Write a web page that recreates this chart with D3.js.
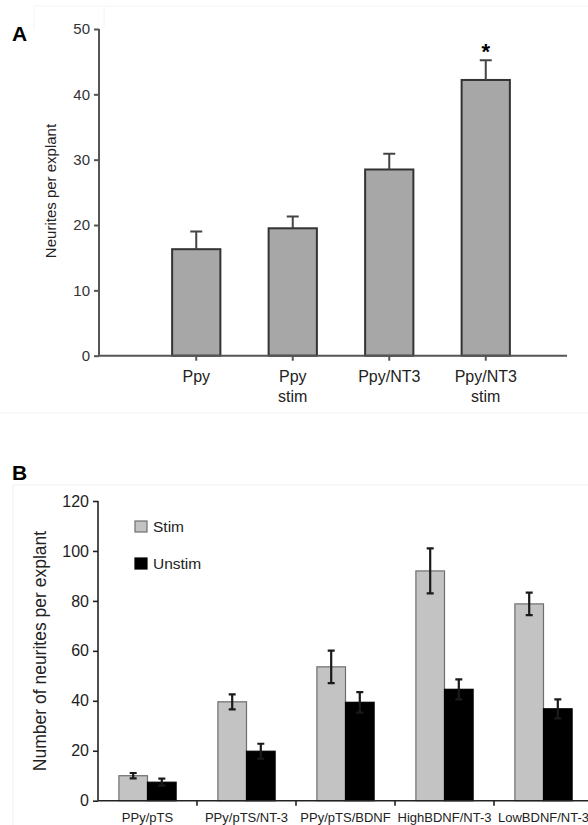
<!DOCTYPE html>
<html>
<head>
<meta charset="utf-8">
<script src="https://cdn.jsdelivr.net/npm/d3@7/dist/d3.min.js"></script>
<style>
  html, body { margin: 0; padding: 0; background: #fff; }
  svg { display: block; font-family: "Liberation Sans", Arial, sans-serif; }
</style>
</head>
<body>
<svg id="fig" width="588" height="825"></svg>
<script>
// ---- Panel A data ----
const catsA = [["Ppy"], ["Ppy", "stim"], ["Ppy/NT3"], ["Ppy/NT3", "stim"]];
const keysA = ["Ppy", "Ppy stim", "Ppy/NT3", "Ppy/NT3 stim"];
const meanA = [16.3, 19.5, 28.5, 42.2];
const errA = [2.7, 1.8, 2.4, 3.0];
const sigA = [false, false, false, true];
const ticksA = [0, 10, 20, 30, 40, 50];

// ---- Panel B data ----
const groupsB = ["PPy/pTS", "PPy/pTS/NT-3", "PPy/pTS/BDNF", "HighBDNF/NT-3", "LowBDNF/NT-3"];
const seriesB = ["Stim", "Unstim"];
const stimB = [10.0, 39.6, 53.6, 92.0, 78.8];
const stimErrB = [1.1, 3.0, 6.5, 9.0, 4.5];
const unstimB = [7.4, 19.8, 39.4, 44.6, 36.8];
const unstimErrB = [1.4, 3.0, 4.1, 4.0, 3.8];
const ticksB = [0, 20, 40, 60, 80, 100, 120];

const svg = d3.select("#fig");

// faint frames of the two panels
svg.append("path").attr("d", "M34,6H588M104,6V28M34,6V30")
  .attr("stroke", "#f4f4f4").attr("fill", "none");
svg.append("path").attr("d", "M0,413H588")
  .attr("stroke", "#f3f3f3").attr("fill", "none");
svg.append("path").attr("d", "M13,825V485H588")
  .attr("stroke", "#f0f0f0").attr("fill", "none");

// ================= Panel A =================
const yA = d3.scaleLinear().domain([0, 50]).range([355.7, 29]);
const xA = d3.scaleBand().domain(keysA).range([148, 534]).paddingInner(0.5).paddingOuter(0.25);

svg.append("text").text("A").attr("x", 12).attr("y", 41)
  .attr("font-size", 21).attr("font-weight", "bold");

const gA = svg.append("g");
// bars
gA.selectAll("rect.bar").data(meanA).join("rect")
  .attr("x", (d, i) => xA(keysA[i]))
  .attr("y", d => yA(d))
  .attr("width", xA.bandwidth())
  .attr("height", d => yA(0) - yA(d))
  .attr("fill", "#a7a7a7").attr("stroke", "#333").attr("stroke-width", 2);
// error bars (upper only)
gA.selectAll("path.err").data(meanA).join("path")
  .attr("d", (d, i) => {
    const cx = xA(keysA[i]) + xA.bandwidth() / 2;
    const t = yA(d + errA[i]);
    return `M${cx},${yA(d)}V${t}M${cx - 6},${t}H${cx + 6}`;
  })
  .attr("stroke", "#444").attr("stroke-width", 2).attr("fill", "none");
// significance marker
gA.selectAll("text.sig").data(meanA.filter((d, i) => sigA[i])).join("text")
  .text("*")
  .attr("x", d => xA(keysA[meanA.indexOf(d)]) + xA.bandwidth() / 2)
  .attr("y", d => yA(d + errA[meanA.indexOf(d)]) - 1)
  .attr("text-anchor", "middle").attr("font-size", 22).attr("font-weight", "bold");

// y axis
const axA = gA.append("g").attr("transform", "translate(99,0)")
  .call(d3.axisLeft(yA).tickValues(ticksA).tickSize(5).tickPadding(4));
axA.select(".domain").attr("d", `M0,${yA(50)}V${yA(0)}`);
axA.selectAll("path,line").attr("stroke", "#555").attr("stroke-width", 2);
axA.selectAll("text").attr("font-size", 15).attr("fill", "#333")
  .attr("font-family", "Liberation Sans, Arial, sans-serif");

// x axis
const axXA = gA.append("g").attr("transform", `translate(0,${yA(0)})`)
  .call(d3.axisBottom(xA).tickSize(5).tickFormat(""));
axXA.select(".domain").attr("d", "M99,0H567");
axXA.selectAll("path,line").attr("stroke", "#555").attr("stroke-width", 2);
// multi-line category labels
gA.selectAll("text.cat").data(catsA).join("text")
  .attr("class", "cat")
  .attr("x", (d, i) => xA(keysA[i]) + xA.bandwidth() / 2)
  .attr("y", 382)
  .attr("text-anchor", "middle").attr("font-size", 16).attr("fill", "#222")
  .each(function (lines) {
    const t = d3.select(this);
    lines.forEach((l, k) => t.append("tspan")
      .attr("x", t.attr("x")).attr("dy", k === 0 ? 0 : 20).text(l));
  });
// y title
svg.append("text").text("Neurites per explant")
  .attr("transform", "translate(56,191) rotate(-90)")
  .attr("text-anchor", "middle").attr("font-size", 15).attr("fill", "#222");

// ================= Panel B =================
const yB = d3.scaleLinear().domain([0, 120]).range([800.7, 501]);
const xB = d3.scaleBand().domain(groupsB).range([98, 593]);
const xInner = d3.scaleBand().domain(seriesB)
  .range([xB.bandwidth() * 0.211, xB.bandwidth() * 0.789]);
const fillB = { Stim: "#c3c3c3", Unstim: "#000" };
const strokeB = { Stim: "#6e6e6e", Unstim: "#000" };

svg.append("text").text("B").attr("x", 12).attr("y", 480)
  .attr("font-size", 21).attr("font-weight", "bold");

const gB = svg.append("g");
const rowsB = groupsB.map((g, i) => [
  { g, s: "Stim", v: stimB[i], e: stimErrB[i] },
  { g, s: "Unstim", v: unstimB[i], e: unstimErrB[i] }
]).flat();

gB.selectAll("rect.bar").data(rowsB).join("rect")
  .attr("x", d => xB(d.g) + xInner(d.s))
  .attr("y", d => yB(d.v))
  .attr("width", xInner.bandwidth())
  .attr("height", d => yB(0) - yB(d.v))
  .attr("fill", d => fillB[d.s]).attr("stroke", d => strokeB[d.s]).attr("stroke-width", 1.2);

gB.selectAll("path.err").data(rowsB).join("path")
  .attr("d", d => {
    const cx = xB(d.g) + xInner(d.s) + xInner.bandwidth() / 2;
    const t = yB(d.v + d.e), b = yB(d.v - d.e);
    return `M${cx},${b}V${t}M${cx - 3.5},${t}H${cx + 3.5}M${cx - 3.5},${b}H${cx + 3.5}`;
  })
  .attr("stroke", "#1a1a1a").attr("stroke-width", 2.2).attr("fill", "none");

// y axis
const axB = gB.append("g").attr("transform", "translate(98,0)")
  .call(d3.axisLeft(yB).tickValues(ticksB).tickSize(5).tickPadding(4));
axB.select(".domain").attr("d", `M0,${yB(120)}V${yB(0)}`);
axB.selectAll("path,line").attr("stroke", "#222").attr("stroke-width", 1.6);
axB.selectAll("text").attr("font-size", 16).attr("fill", "#222")
  .attr("font-family", "Liberation Sans, Arial, sans-serif");

// x axis: ticks at group boundaries
const axXB = gB.append("g").attr("transform", `translate(0,${yB(0)})`);
axXB.append("path").attr("d", "M98,0H593").attr("stroke", "#222").attr("stroke-width", 1.6);
axXB.selectAll("line").data(groupsB).join("line")
  .attr("x1", d => xB(d) + xB.bandwidth()).attr("x2", d => xB(d) + xB.bandwidth())
  .attr("y1", 0).attr("y2", 5).attr("stroke", "#222").attr("stroke-width", 1.6);
gB.selectAll("text.grp").data(groupsB).join("text")
  .attr("x", d => xB(d) + xB.bandwidth() / 2)
  .attr("y", 822)
  .attr("text-anchor", "middle").attr("font-size", 13).attr("fill", "#222")
  .text(d => d);

// legend
const leg = gB.selectAll("g.leg").data(seriesB).join("g")
  .attr("transform", (d, i) => `translate(135,${521 + i * 37})`);
leg.append("rect").attr("width", 12).attr("height", 11)
  .attr("fill", d => fillB[d]).attr("stroke", d => strokeB[d]).attr("stroke-width", 1.2);
leg.append("text").attr("x", 18).attr("y", 11).attr("font-size", 15.5).attr("fill", "#222")
  .text(d => d);

// y title
svg.append("text").text("Number of neurites per explant")
  .attr("transform", "translate(46,651) rotate(-90)")
  .attr("text-anchor", "middle").attr("font-size", 17.5).attr("fill", "#222");
</script>
</body>
</html>
